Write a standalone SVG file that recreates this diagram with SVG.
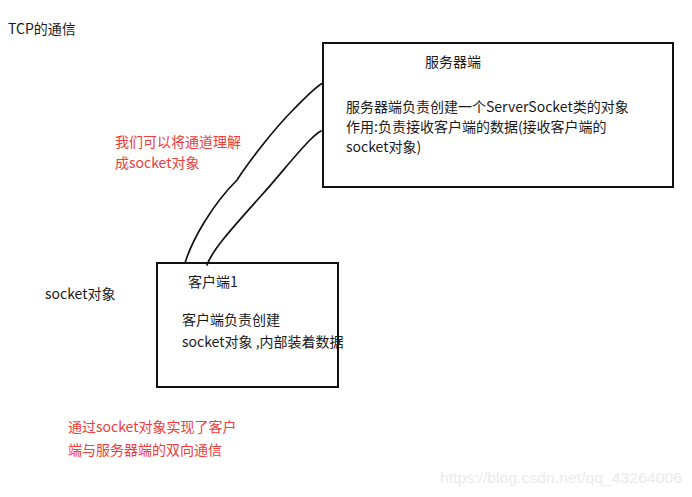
<svg xmlns="http://www.w3.org/2000/svg" width="692" height="497" viewBox="0 0 692 497">
<style>
text{font-family:"Noto Sans CJK SC","Microsoft YaHei",sans-serif;font-size:14px;fill:#1a1a1a}
.red{fill:#f03c3c}
.box{fill:none;stroke:#111;stroke-width:2}
.wire{fill:none;stroke:#111;stroke-width:1.7;stroke-linecap:round}
.wm{fill:#ebebeb;font-family:"Liberation Sans",Arial,sans-serif;font-size:15px}
</style>
<rect width="692" height="497" fill="#fff"/>
<text x="8" y="34">TCP的通信</text>
<g id="server">
<rect class="box" x="323" y="43" width="350" height="144"/>
<text x="425" y="67">服务器端</text>
<text x="346" y="112">服务器端负责创建一个ServerSocket类的对象</text>
<text x="346" y="132">作用:负责接收客户端的数据(接收客户端的</text>
<text x="346" y="152">socket对象)</text>
</g>
<g id="client">
<rect class="box" x="157" y="263" width="181" height="124"/>
<text x="188" y="287">客户端1</text>
<text x="182" y="325">客户端负责创建</text>
<text x="182" y="347">socket对象 ,内部装着数据</text>
</g>
<g id="connectors">
<path class="wire" d="M185,263 C192,240 212,205 237,180 C250,160 275,128 293,110 C305,98 315,87 323,83"/>
<path class="wire" d="M207,265 C212,250 235,225 260,197 C280,175 295,155 310,140 C314,136 317,133 321,131"/>
</g>
<text class="red" x="115" y="147">我们可以将通道理解</text>
<text class="red" x="115" y="168">成socket对象</text>
<text x="45" y="299">socket对象</text>
<text class="red" x="68" y="432">通过socket对象实现了客户</text>
<text class="red" x="68" y="455">端与服务器端的双向通信</text>
<text class="wm" x="440" y="483" textLength="242" lengthAdjust="spacingAndGlyphs">https://blog.csdn.net/qq_43264006</text>
</svg>
